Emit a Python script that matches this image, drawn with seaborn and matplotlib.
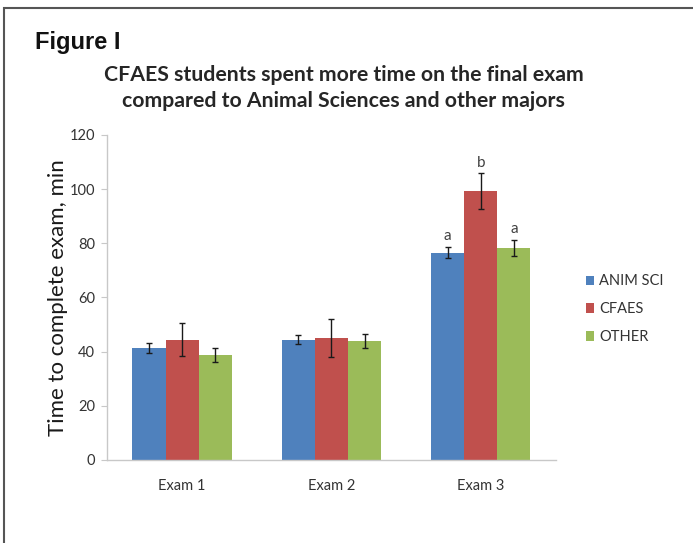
import matplotlib
matplotlib.use("Agg")
import matplotlib.pyplot as plt
import seaborn as sns
import pandas as pd
from matplotlib.patches import Rectangle, Patch

# ---- data ----
exams = ["Exam 1", "Exam 2", "Exam 3"]
groups = ["ANIM SCI", "CFAES", "OTHER"]
anim_sci = [41.3, 44.4, 76.6]
cfaes = [44.4, 44.9, 99.2]
other = [38.8, 44.0, 78.3]
anim_sci_err = [1.8, 1.7, 2.0]
cfaes_err = [6.0, 7.0, 6.6]
other_err = [2.6, 2.7, 3.0]
exam3_letters = ["a", "b", "a"]
colors = ["#4F81BD", "#C0504D", "#9BBB59"]

values = {"ANIM SCI": anim_sci, "CFAES": cfaes, "OTHER": other}
errors = {"ANIM SCI": anim_sci_err, "CFAES": cfaes_err, "OTHER": other_err}

rows = []
for g in groups:
    for e, v in zip(exams, values[g]):
        rows.append({"exam": e, "group": g, "time": v})
df = pd.DataFrame(rows)

sns.set_theme(style="white")
plt.rcParams["font.family"] = ["Lato", "DejaVu Sans"]

fig = plt.figure(figsize=(6.93, 5.43), dpi=100)
ax = fig.add_axes([0.155, 0.1529, 0.6466, 0.5985])

sns.barplot(data=df, x="exam", y="time", hue="group", order=exams,
            hue_order=groups, palette=colors, errorbar=None, width=0.665,
            saturation=1, ax=ax, legend=False, linewidth=0, edgecolor="none")

for g, cont in zip(groups, ax.containers):
    xs = [b.get_x() + b.get_width() / 2 for b in cont]
    ax.errorbar(xs, values[g], yerr=errors[g], fmt="none", ecolor="#1a1a1a",
                elinewidth=1.0, capsize=2.2, capthick=1.0, zorder=5)

# significance letters on Exam 3
for g, cont, letter in zip(groups, ax.containers, exam3_letters):
    b = cont[2]
    top = values[g][2] + errors[g][2]
    ax.text(b.get_x() + b.get_width() / 2, top + 2.5, letter, ha="center",
            va="baseline", fontsize=11, color="#404040")

ax.set_ylim(0, 120)
ax.set_yticks(range(0, 121, 20))
ax.set_xlim(-0.5, 2.5)
ax.set_xlabel("")
ax.set_ylabel("Time to complete exam, min", fontsize=16, color="#1a1a1a",
              labelpad=1)
ax.tick_params(axis="y", left=True, length=4, width=0.8, color="#c8c8c8",
               labelsize=10.5, labelcolor="#333333", pad=5)
ax.tick_params(axis="x", bottom=False, labelsize=10.5, labelcolor="#333333", pad=8)
for s in ["top", "right"]:
    ax.spines[s].set_visible(False)
for s in ["left", "bottom"]:
    ax.spines[s].set_color("#c8c8c8")
    ax.spines[s].set_linewidth(1.0)

handles = [Patch(facecolor=c, edgecolor="none") for c in colors]
fig.legend(handles, groups, loc="upper left", bbox_to_anchor=(0.826, 0.519),
           frameon=False, fontsize=10.5, handlelength=0.6, handleheight=0.6,
           handletextpad=0.35, labelspacing=0.95, labelcolor="#333333")

fig.text(35 / 693, 1 - 42 / 543, "Figure I", fontsize=17,
         fontweight="bold", family=["Liberation Sans"], va="center",
         ha="left", color="#111111")
fig.text(0.496, 1 - 75 / 543, "CFAES students spent more time on the final exam",
         fontsize=15.3, fontweight="bold", ha="center", va="center",
         color="#262626")
fig.text(0.496, 1 - 101 / 543, "compared to Animal Sciences and other majors",
         fontsize=15.3, fontweight="bold", ha="center", va="center",
         color="#262626")

fig.patches.append(Rectangle((4 / 693, -0.05), 1.1, 1 - 8 / 543 + 0.05,
                             transform=fig.transFigure, fill=False,
                             edgecolor="#555555", linewidth=1.5))

fig.savefig("out.png", dpi=100)
